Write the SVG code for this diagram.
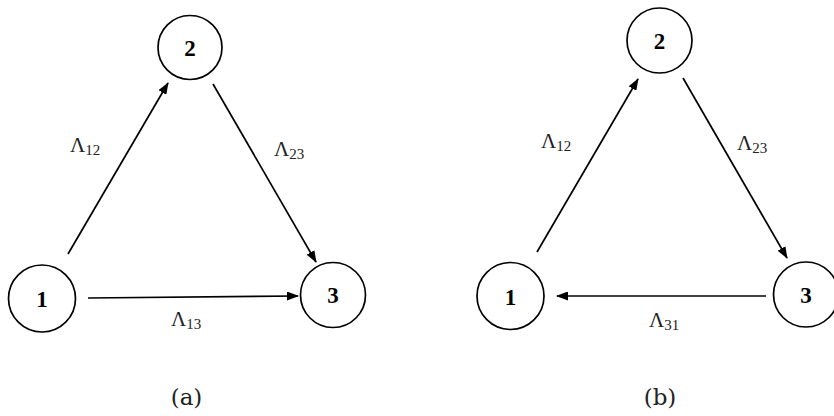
<svg xmlns="http://www.w3.org/2000/svg" width="834" height="416" viewBox="0 0 834 416">
<defs>
<marker id="ah" markerWidth="12" markerHeight="9" refX="11" refY="4.5" orient="auto" markerUnits="userSpaceOnUse">
<path d="M0,0 L12,4.5 L0,9 Z" fill="#000"/>
</marker>
<style>
.node circle{fill:#fff;stroke:#000;stroke-width:1.7}
.node text{font-family:"Liberation Serif",serif;font-weight:bold;font-size:23px;text-anchor:middle;fill:#000}
.edges line{stroke:#000;stroke-width:1.7;marker-end:url(#ah)}
.lab{font-family:"Liberation Serif",serif;font-size:21px;fill:#222}
.sub{font-size:15px}
.cap{font-family:"DejaVu Serif","Liberation Serif",serif;font-size:23px;fill:#222;text-anchor:middle}
</style>
</defs>
<rect width="834" height="416" fill="#fff"/>
<g class="edges">
<line x1="68" y1="254" x2="168" y2="83"/>
<line x1="213" y1="84" x2="316" y2="262"/>
<line x1="88" y1="298" x2="298" y2="296"/>
<line x1="537" y1="252" x2="638" y2="79"/>
<line x1="683" y1="78" x2="787" y2="258"/>
<line x1="766" y1="296" x2="557" y2="296"/>
</g>
<g id="a1" class="node"><circle cx="42" cy="298.5" r="33.5"/><text x="42" y="307">1</text></g>
<g id="a2" class="node"><circle cx="190" cy="47.5" r="32"/><text x="190" y="56">2</text></g>
<g id="a3" class="node"><circle cx="333" cy="295" r="32.5"/><text x="333" y="303">3</text></g>
<g id="b1" class="node"><circle cx="510.5" cy="296" r="33.5"/><text x="510.5" y="305">1</text></g>
<g id="b2" class="node"><circle cx="659.5" cy="40.5" r="32.5"/><text x="659.5" y="49">2</text></g>
<g id="b3" class="node"><circle cx="806" cy="294.5" r="32.5"/><text x="806" y="303">3</text></g>
<g class="labels">
<text class="lab" x="70" y="152">Λ<tspan class="sub" dy="3">12</tspan></text>
<text class="lab" x="274" y="156">Λ<tspan class="sub" dy="3">23</tspan></text>
<text class="lab" x="171" y="326">Λ<tspan class="sub" dy="3">13</tspan></text>
<text class="lab" x="541" y="148">Λ<tspan class="sub" dy="3">12</tspan></text>
<text class="lab" x="737" y="150">Λ<tspan class="sub" dy="3">23</tspan></text>
<text class="lab" x="649" y="327">Λ<tspan class="sub" dy="3">31</tspan></text>
<text class="cap" x="186.5" y="405">(a)</text>
<text class="cap" x="660" y="405">(b)</text>
</g>
</svg>
